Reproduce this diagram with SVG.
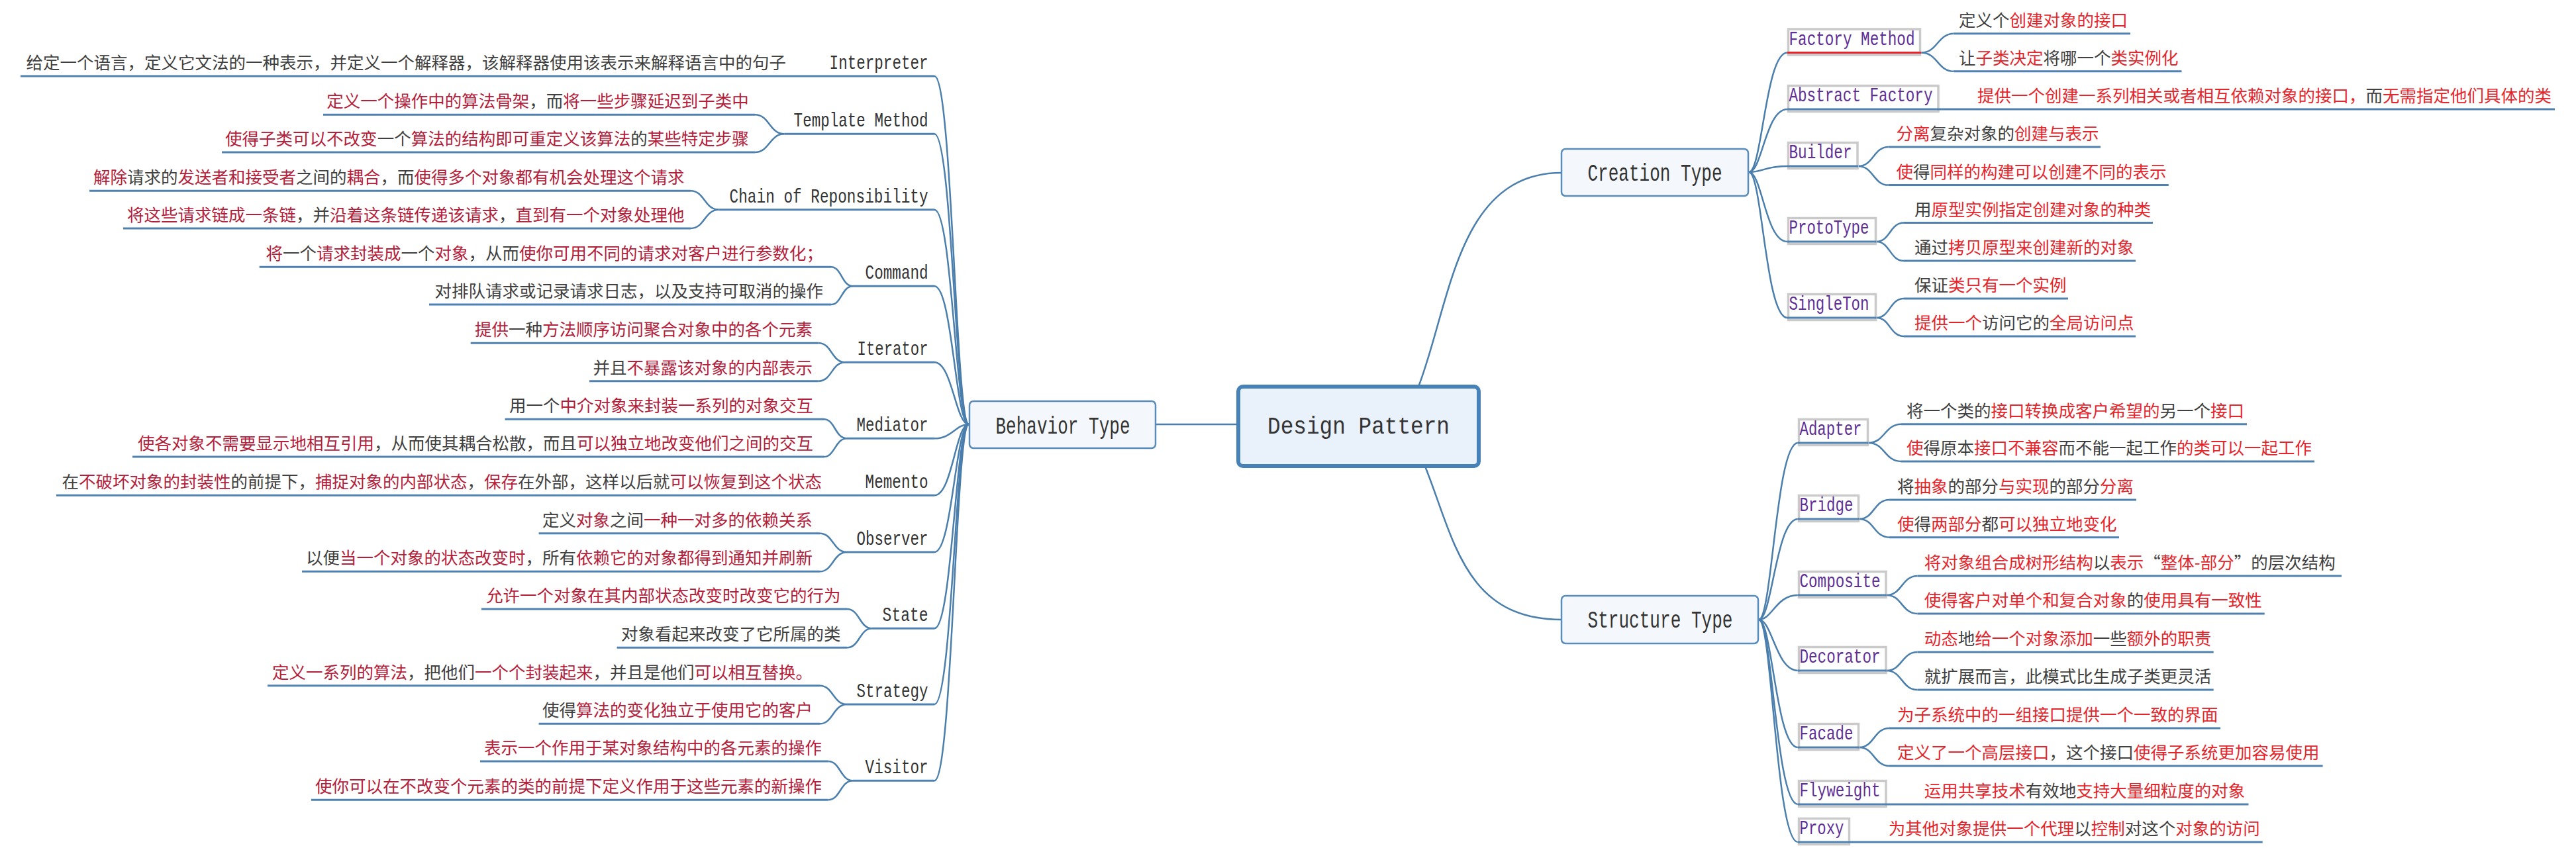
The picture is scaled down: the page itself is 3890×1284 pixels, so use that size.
<svg xmlns="http://www.w3.org/2000/svg" width="3890" height="1284" viewBox="0 0 3890 1284">
<style>
.ln{fill:none;stroke:#4a7eac;stroke-width:2.5}
.ul{fill:none;stroke:#4f82b0;stroke-width:3}
.box{fill:#fff;stroke:#cacaca;stroke-width:3.5}
.t{font-family:"Noto Sans CJK SC","Noto Sans CJK JP",sans-serif;font-size:25.5px;fill:#404040}
.e{text-anchor:end}
.r{fill:#e4262c}
.k{fill:#b4203a}
.lat{font-family:"Liberation Mono",monospace;font-size:29px;fill:#333}
.pu{fill:#5e2f95}
.big{font-family:"Liberation Mono",monospace;font-size:36px;fill:#333;text-anchor:middle}
</style>
<rect width="3890" height="1284" fill="#fff"/>

<g id="connectors">
<path class="ln" d="M1745 641 H1868"/>
<path class="ln" d="M2142 584 C2190 460 2200 261 2358 261"/>
<path class="ln" d="M2151 702 C2195 810 2210 936 2358 936"/>
<!-- creation fan -->
<path class="ln" d="M2641 260 C2661 260 2666 79.6 2699 79.6"/>
<path class="ln" d="M2641 260 C2661 260 2666 165 2699 165"/>
<path class="ln" d="M2641 260 C2661 260 2666 251 2699 251"/>
<path class="ln" d="M2641 260 C2661 260 2666 365 2699 365"/>
<path class="ln" d="M2641 260 C2661 260 2666 480 2699 480"/>
<!-- structure fan -->
<path class="ln" d="M2656 936 C2676 936 2682 669 2715 669"/>
<path class="ln" d="M2656 936 C2676 936 2682 784 2715 784"/>
<path class="ln" d="M2656 936 C2676 936 2682 899 2715 899"/>
<path class="ln" d="M2656 936 C2676 936 2682 1013 2715 1013"/>
<path class="ln" d="M2656 936 C2676 936 2682 1129 2715 1129"/>
<path class="ln" d="M2656 936 C2676 936 2682 1215 2715 1215"/>
<path class="ln" d="M2656 936 C2676 936 2682 1272 2715 1272"/>
<!-- behavior fan -->
<path class="ln" d="M1463 641 C1443 641 1438 115 1411 115"/>
<path class="ln" d="M1463 641 C1443 641 1438 202.3 1411 202.3"/>
<path class="ln" d="M1463 641 C1443 641 1438 316.7 1411 316.7"/>
<path class="ln" d="M1463 641 C1443 641 1438 432.3 1411 432.3"/>
<path class="ln" d="M1463 641 C1443 641 1438 547.3 1411 547.3"/>
<path class="ln" d="M1463 641 C1443 641 1438 662.3 1411 662.3"/>
<path class="ln" d="M1463 641 C1443 641 1438 748.3 1411 748.3"/>
<path class="ln" d="M1463 641 C1443 641 1438 834 1411 834"/>
<path class="ln" d="M1463 641 C1443 641 1438 949.3 1411 949.3"/>
<path class="ln" d="M1463 641 C1443 641 1438 1064 1411 1064"/>
<path class="ln" d="M1463 641 C1443 641 1438 1179.3 1411 1179.3"/>
<!-- right box to children -->
<path class="ln" d="M2901 79.6 C2926 79.6 2926 50.7 2950.5 50.7"/>
<path class="ln" d="M2901 79.6 C2926 79.6 2926 107.8 2950.5 107.8"/>
<path class="ln" d="M2806 251 C2829 251 2829 222 2851.7 222"/>
<path class="ln" d="M2806 251 C2829 251 2829 279.6 2851.7 279.6"/>
<path class="ln" d="M2833.5 365 C2854 365 2854 336.6 2875 336.6"/>
<path class="ln" d="M2833.5 365 C2854 365 2854 394 2875 394"/>
<path class="ln" d="M2833.5 480 C2854 480 2854 451 2875 451"/>
<path class="ln" d="M2833.5 480 C2854 480 2854 508 2875 508"/>
<path class="ln" d="M2821.5 669 C2846 669 2846 640.7 2871 640.7"/>
<path class="ln" d="M2821.5 669 C2846 669 2846 697 2871 697"/>
<path class="ln" d="M2807.6 784 C2830 784 2830 755 2853 755"/>
<path class="ln" d="M2807.6 784 C2830 784 2830 811.7 2853 811.7"/>
<path class="ln" d="M2849 899 C2872 899 2872 870 2895.5 870"/>
<path class="ln" d="M2849 899 C2872 899 2872 927 2895.5 927"/>
<path class="ln" d="M2849 1013 C2872 1013 2872 985 2895.5 985"/>
<path class="ln" d="M2849 1013 C2872 1013 2872 1042 2895.5 1042"/>
<path class="ln" d="M2807.6 1129 C2830 1129 2830 1100 2853 1100"/>
<path class="ln" d="M2807.6 1129 C2830 1129 2830 1157 2853 1157"/>
<!-- left subtopic to children -->
<path class="ln" d="M1184.5 202.3 C1162 202.3 1162 173.3 1140 173.3"/>
<path class="ln" d="M1184.5 202.3 C1162 202.3 1162 230 1140 230"/>
<path class="ln" d="M1085.4 316.7 C1064 316.7 1064 288.3 1043 288.3"/>
<path class="ln" d="M1085.4 316.7 C1064 316.7 1064 345 1043 345"/>
<path class="ln" d="M1288 432.3 C1271 432.3 1271 403.3 1255 403.3"/>
<path class="ln" d="M1288 432.3 C1271 432.3 1271 460 1255 460"/>
<path class="ln" d="M1276 547.3 C1256 547.3 1256 518.3 1236.4 518.3"/>
<path class="ln" d="M1276 547.3 C1256 547.3 1256 575.7 1236.4 575.7"/>
<path class="ln" d="M1279 662.3 C1261 662.3 1261 633.3 1244 633.3"/>
<path class="ln" d="M1279 662.3 C1261 662.3 1261 690 1244 690"/>
<path class="ln" d="M1279 834 C1258 834 1258 805.7 1238 805.7"/>
<path class="ln" d="M1279 834 C1258 834 1258 863.3 1238 863.3"/>
<path class="ln" d="M1316.7 949.3 C1298 949.3 1298 920 1279 920"/>
<path class="ln" d="M1316.7 949.3 C1298 949.3 1298 978.3 1279 978.3"/>
<path class="ln" d="M1279 1064 C1258 1064 1258 1035.7 1238 1035.7"/>
<path class="ln" d="M1279 1064 C1258 1064 1258 1093.3 1238 1093.3"/>
<path class="ln" d="M1288 1179.3 C1269 1179.3 1269 1150 1250.6 1150"/>
<path class="ln" d="M1288 1179.3 C1269 1179.3 1269 1208.3 1250.6 1208.3"/>
</g>

<g id="design-pattern">
<rect x="1870" y="584" width="363" height="120" rx="7" fill="#e9f1fa" stroke="#4681b8" stroke-width="6"/>
<text class="big" x="2051.5" y="655" font-size="42" textLength="275" lengthAdjust="spacingAndGlyphs">Design Pattern</text>
</g>

<g id="behavior-type">
<rect x="1464" y="606" width="281" height="71" rx="6" fill="#f4f8fc" stroke="#5a8cba" stroke-width="2.5"/>
<text class="big" x="1605" y="655" textLength="203" lengthAdjust="spacingAndGlyphs">Behavior Type</text>
</g>

<g id="creation-type">
<rect x="2358" y="225" width="282" height="71" rx="6" fill="#f4f8fc" stroke="#5a8cba" stroke-width="2.5"/>
<text class="big" x="2499" y="273" textLength="203" lengthAdjust="spacingAndGlyphs">Creation Type</text>
</g>

<g id="structure-type">
<rect x="2358" y="900" width="297" height="72" rx="6" fill="#f4f8fc" stroke="#5a8cba" stroke-width="2.5"/>
<text class="big" x="2507" y="948" textLength="219" lengthAdjust="spacingAndGlyphs">Structure Type</text>
</g>

<!-- Creation subtopics -->
<g id="factory-method">
<rect class="box" x="2700.5" y="44" width="199" height="39"/>
<line x1="2699" y1="79.6" x2="2901" y2="79.6" stroke="#e8232b" stroke-width="3"/>
<text class="lat pu" x="2701.5" y="67.6" textLength="190" lengthAdjust="spacingAndGlyphs">Factory Method</text>
<line class="ul" x1="2950.5" y1="50.7" x2="3217" y2="50.7"/>
<text class="t" x="2958" y="39.7">定义个<tspan class="r">创建对象的接口</tspan></text>
<line class="ul" x1="2950.5" y1="107.8" x2="3294.5" y2="107.8"/>
<text class="t" x="2958" y="96.8">让<tspan class="r">子类决定</tspan>将哪一个<tspan class="r">类实例化</tspan></text>
</g>

<g id="abstract-factory">
<rect class="box" x="2700.5" y="129.5" width="226.5" height="39"/>
<line class="ul" x1="2699" y1="165" x2="3858" y2="165"/>
<text class="lat pu" x="2701.5" y="153" textLength="217" lengthAdjust="spacingAndGlyphs">Abstract Factory</text>
<text class="t" x="2986" y="154"><tspan class="r">提供一个创建一系列相关或者相互依赖对象的接口，</tspan>而<tspan class="r">无需指定他们具体的类</tspan></text>
</g>

<g id="builder">
<rect class="box" x="2700.5" y="215.5" width="104.5" height="39"/>
<line class="ul" x1="2699" y1="251" x2="2806" y2="251"/>
<text class="lat pu" x="2701.5" y="239" textLength="95" lengthAdjust="spacingAndGlyphs">Builder</text>
<line class="ul" x1="2851.7" y1="222" x2="3172" y2="222"/>
<text class="t" x="2863.5" y="211"><tspan class="r">分离</tspan>复杂对象的<tspan class="r">创建与表示</tspan></text>
<line class="ul" x1="2851.7" y1="279.6" x2="3274.8" y2="279.6"/>
<text class="t" x="2863.5" y="268.6"><tspan class="r">使</tspan>得<tspan class="r">同样的构建可以创建不同的表示</tspan></text>
</g>

<g id="prototype">
<rect class="box" x="2700.5" y="329.5" width="132" height="39"/>
<line class="ul" x1="2699" y1="365" x2="2833.5" y2="365"/>
<text class="lat pu" x="2701.5" y="353" textLength="121" lengthAdjust="spacingAndGlyphs">ProtoType</text>
<line class="ul" x1="2875" y1="336.6" x2="3251" y2="336.6"/>
<text class="t" x="2891" y="325.6">用<tspan class="r">原型实例指定创建对象的种类</tspan></text>
<line class="ul" x1="2875" y1="394" x2="3225" y2="394"/>
<text class="t" x="2891" y="383">通过<tspan class="r">拷贝原型来创建新的对象</tspan></text>
</g>

<g id="singleton">
<rect class="box" x="2700.5" y="444.5" width="132" height="39"/>
<line class="ul" x1="2699" y1="480" x2="2833.5" y2="480"/>
<text class="lat pu" x="2701.5" y="468" textLength="121" lengthAdjust="spacingAndGlyphs">SingleTon</text>
<line class="ul" x1="2875" y1="451" x2="3123" y2="451"/>
<text class="t" x="2891" y="440">保证<tspan class="r">类只有一个实例</tspan></text>
<line class="ul" x1="2875" y1="508" x2="3225" y2="508"/>
<text class="t" x="2891" y="497"><tspan class="r">提供一个</tspan>访问它的<tspan class="r">全局访问点</tspan></text>
</g>

<!-- Structure subtopics -->
<g id="adapter">
<rect class="box" x="2716.5" y="633.5" width="104" height="39"/>
<line class="ul" x1="2715" y1="669" x2="2821.5" y2="669"/>
<text class="lat pu" x="2717.5" y="657" textLength="94" lengthAdjust="spacingAndGlyphs">Adapter</text>
<line class="ul" x1="2871" y1="640.7" x2="3393" y2="640.7"/>
<text class="t" x="2879" y="629.7">将一个类的<tspan class="r">接口转换成客户希望的</tspan>另一个<tspan class="r">接口</tspan></text>
<line class="ul" x1="2871" y1="697" x2="3495" y2="697"/>
<text class="t" x="2879" y="686"><tspan class="r">使</tspan>得原本<tspan class="r">接口不兼容</tspan>而不能一起工作<tspan class="r">的类可以一起工作</tspan></text>
</g>

<g id="bridge">
<rect class="box" x="2716.5" y="748.5" width="90" height="39"/>
<line class="ul" x1="2715" y1="784" x2="2807.6" y2="784"/>
<text class="lat pu" x="2717.5" y="772" textLength="81" lengthAdjust="spacingAndGlyphs">Bridge</text>
<line class="ul" x1="2853" y1="755" x2="3226" y2="755"/>
<text class="t" x="2865" y="744">将<tspan class="r">抽象</tspan>的部分<tspan class="r">与实现</tspan>的部分<tspan class="r">分离</tspan></text>
<line class="ul" x1="2853" y1="811.7" x2="3200" y2="811.7"/>
<text class="t" x="2865" y="800.7"><tspan class="r">使</tspan>得<tspan class="r">两部分</tspan>都<tspan class="r">可以独立地变化</tspan></text>
</g>

<g id="composite">
<rect class="box" x="2716.5" y="863.5" width="131.5" height="39"/>
<line class="ul" x1="2715" y1="899" x2="2849" y2="899"/>
<text class="lat pu" x="2717.5" y="887" textLength="122" lengthAdjust="spacingAndGlyphs">Composite</text>
<line class="ul" x1="2895.5" y1="870" x2="3536" y2="870"/>
<text class="t" x="2905.8" y="859"><tspan class="r">将对象组合成树形结构</tspan>以<tspan class="r">表示</tspan>“<tspan class="r">整体-部分</tspan>”的层次结构</text>
<line class="ul" x1="2895.5" y1="927" x2="3419.7" y2="927"/>
<text class="t" x="2905.8" y="916"><tspan class="r">使得客户对单个和复合对象</tspan>的<tspan class="r">使用具有一致性</tspan></text>
</g>

<g id="decorator">
<rect class="box" x="2716.5" y="977.5" width="131.5" height="39"/>
<line class="ul" x1="2715" y1="1013" x2="2849" y2="1013"/>
<text class="lat pu" x="2717.5" y="1001" textLength="122" lengthAdjust="spacingAndGlyphs">Decorator</text>
<line class="ul" x1="2895.5" y1="985" x2="3342.7" y2="985"/>
<text class="t" x="2905.8" y="974"><tspan class="r">动态</tspan>地<tspan class="r">给一个对象添加</tspan>一些<tspan class="r">额外的职责</tspan></text>
<line class="ul" x1="2895.5" y1="1042" x2="3342.7" y2="1042"/>
<text class="t" x="2905.8" y="1031">就扩展而言，此模式比生成子类更灵活</text>
</g>

<g id="facade">
<rect class="box" x="2716.5" y="1093.5" width="90" height="39"/>
<line class="ul" x1="2715" y1="1129" x2="2807.6" y2="1129"/>
<text class="lat pu" x="2717.5" y="1117" textLength="81" lengthAdjust="spacingAndGlyphs">Facade</text>
<line class="ul" x1="2853" y1="1100" x2="3353" y2="1100"/>
<text class="t r" x="2865" y="1089">为子系统中的一组接口提供一个一致的界面</text>
<line class="ul" x1="2853" y1="1157" x2="3507.6" y2="1157"/>
<text class="t" x="2865" y="1146"><tspan class="r">定义了一个高层接口</tspan>，这个接口<tspan class="r">使得子系统更加容易使用</tspan></text>
</g>

<g id="flyweight">
<rect class="box" x="2716.5" y="1179.5" width="131.5" height="39"/>
<line class="ul" x1="2715" y1="1215" x2="3395.5" y2="1215"/>
<text class="lat pu" x="2717.5" y="1203" textLength="122" lengthAdjust="spacingAndGlyphs">Flyweight</text>
<text class="t" x="2905.8" y="1204"><tspan class="r">运用共享技术</tspan>有效地<tspan class="r">支持大量细粒度的对象</tspan></text>
</g>

<g id="proxy">
<rect class="box" x="2716.5" y="1236.5" width="76" height="39"/>
<line class="ul" x1="2715" y1="1272" x2="3416.7" y2="1272"/>
<text class="lat pu" x="2717.5" y="1260" textLength="67" lengthAdjust="spacingAndGlyphs">Proxy</text>
<text class="t" x="2851.8" y="1261"><tspan class="r">为其他对象提供一个代理</tspan>以<tspan class="r">控制</tspan>对这个<tspan class="r">对象的访问</tspan></text>
</g>

<!-- Behavior subtopics -->
<g id="interpreter">
<line class="ul" x1="31" y1="115" x2="1411" y2="115"/>
<text class="lat e" x="1401.6" y="104" textLength="149" lengthAdjust="spacingAndGlyphs">Interpreter</text>
<text class="t e" x="1187" y="104">给定一个语言，定义它文法的一种表示，并定义一个解释器，该解释器使用该表示来解释语言中的句子</text>
</g>

<g id="template-method">
<line class="ul" x1="1184.5" y1="202.3" x2="1411" y2="202.3"/>
<text class="lat e" x="1401.6" y="191.3" textLength="203" lengthAdjust="spacingAndGlyphs">Template Method</text>
<line class="ul" x1="488" y1="173.3" x2="1140" y2="173.3"/>
<text class="t e" x="1130.7" y="162.3"><tspan class="k">定义一个操作中的算法骨架</tspan>，而<tspan class="k">将一些步骤延迟到子类中</tspan></text>
<line class="ul" x1="335" y1="230" x2="1140" y2="230"/>
<text class="t e" x="1130.7" y="219"><tspan class="k">使得子类可以不改变</tspan>一个<tspan class="k">算法的结构即可重定义该算法</tspan>的<tspan class="k">某些特定步骤</tspan></text>
</g>

<g id="chain-of-responsibility">
<line class="ul" x1="1085.4" y1="316.7" x2="1411" y2="316.7"/>
<text class="lat e" x="1401.6" y="305.7" textLength="300" lengthAdjust="spacingAndGlyphs">Chain of Reponsibility</text>
<line class="ul" x1="135" y1="288.3" x2="1043" y2="288.3"/>
<text class="t e" x="1033.5" y="277.3"><tspan class="k">解除</tspan>请求的<tspan class="k">发送者和接受者</tspan>之间的<tspan class="k">耦合</tspan>，而<tspan class="k">使得多个对象都有机会处理这个请求</tspan></text>
<line class="ul" x1="186" y1="345" x2="1043" y2="345"/>
<text class="t e" x="1033.5" y="334"><tspan class="k">将这些请求链成一条链</tspan>，并<tspan class="k">沿着这条链传递该请求</tspan>，<tspan class="k">直到有一个对象处理他</tspan></text>
</g>

<g id="command">
<line class="ul" x1="1288" y1="432.3" x2="1411" y2="432.3"/>
<text class="lat e" x="1401.6" y="421.3" textLength="95" lengthAdjust="spacingAndGlyphs">Command</text>
<line class="ul" x1="391.7" y1="403.3" x2="1255" y2="403.3"/>
<text class="t e" x="1243" y="392.3"><tspan class="k">将</tspan>一个<tspan class="k">请求封装成</tspan>一个<tspan class="k">对象</tspan>，从而<tspan class="k">使你可用不同的请求对客户进行参数化；</tspan></text>
<line class="ul" x1="648" y1="460" x2="1255" y2="460"/>
<text class="t e" x="1243" y="449">对排队请求或记录请求日志，以及支持可取消的操作</text>
</g>

<g id="iterator">
<line class="ul" x1="1276" y1="547.3" x2="1411" y2="547.3"/>
<text class="lat e" x="1401.6" y="536.3" textLength="107" lengthAdjust="spacingAndGlyphs">Iterator</text>
<line class="ul" x1="710.7" y1="518.3" x2="1236.4" y2="518.3"/>
<text class="t e" x="1227" y="507.3"><tspan class="k">提供</tspan>一种<tspan class="k">方法顺序访问聚合对象中的各个元素</tspan></text>
<line class="ul" x1="890" y1="575.7" x2="1236.4" y2="575.7"/>
<text class="t e" x="1227" y="564.7">并且<tspan class="k">不暴露该对象的内部表示</tspan></text>
</g>

<g id="mediator">
<line class="ul" x1="1279" y1="662.3" x2="1411" y2="662.3"/>
<text class="lat e" x="1401.6" y="651.3" textLength="108" lengthAdjust="spacingAndGlyphs">Mediator</text>
<line class="ul" x1="762.6" y1="633.3" x2="1244" y2="633.3"/>
<text class="t e" x="1228" y="622.3">用一个<tspan class="k">中介对象来封装一系列的对象交互</tspan></text>
<line class="ul" x1="200" y1="690" x2="1244" y2="690"/>
<text class="t e" x="1228" y="679"><tspan class="k">使各对象不需要显示地相互引用</tspan>，从而使其耦合松散，而且<tspan class="k">可以独立地改变他们之间的交互</tspan></text>
</g>

<g id="memento">
<line class="ul" x1="85" y1="748.3" x2="1411" y2="748.3"/>
<text class="lat e" x="1401.6" y="737.3" textLength="95" lengthAdjust="spacingAndGlyphs">Memento</text>
<text class="t e" x="1241" y="737.3">在<tspan class="k">不破坏对象的封装性</tspan>的前提下，<tspan class="k">捕捉对象的内部状态</tspan>，<tspan class="k">保存</tspan>在外部，这样以后就<tspan class="k">可以恢复到这个状态</tspan></text>
</g>

<g id="observer">
<line class="ul" x1="1279" y1="834" x2="1411" y2="834"/>
<text class="lat e" x="1401.6" y="823" textLength="108" lengthAdjust="spacingAndGlyphs">Observer</text>
<line class="ul" x1="813.6" y1="805.7" x2="1238" y2="805.7"/>
<text class="t e" x="1227" y="794.7">定义<tspan class="k">对象</tspan>之间<tspan class="k">一种一对多的依赖关系</tspan></text>
<line class="ul" x1="456" y1="863.3" x2="1238" y2="863.3"/>
<text class="t e" x="1227" y="852.3">以便<tspan class="k">当一个对象的状态改变时</tspan>，所有<tspan class="k">依赖它的对象都得到通知并刷新</tspan></text>
</g>

<g id="state">
<line class="ul" x1="1316.7" y1="949.3" x2="1411" y2="949.3"/>
<text class="lat e" x="1401.6" y="938.3" textLength="69" lengthAdjust="spacingAndGlyphs">State</text>
<line class="ul" x1="727" y1="920" x2="1279" y2="920"/>
<text class="t e k" x="1269.5" y="909">允许一个对象在其内部状态改变时改变它的行为</text>
<line class="ul" x1="931.6" y1="978.3" x2="1279" y2="978.3"/>
<text class="t e" x="1269.5" y="967.3">对象看起来改变了它所属的类</text>
</g>

<g id="strategy">
<line class="ul" x1="1279" y1="1064" x2="1411" y2="1064"/>
<text class="lat e" x="1401.6" y="1053" textLength="108" lengthAdjust="spacingAndGlyphs">Strategy</text>
<line class="ul" x1="404" y1="1035.7" x2="1238" y2="1035.7"/>
<text class="t e" x="1227" y="1024.7"><tspan class="k">定义一系列的算法</tspan>，把他们<tspan class="k">一个个封装起来</tspan>，并且是他们<tspan class="k">可以相互替换。</tspan></text>
<line class="ul" x1="813.6" y1="1093.3" x2="1238" y2="1093.3"/>
<text class="t e" x="1227" y="1082.3">使得<tspan class="k">算法的变化独立于使用它的客户</tspan></text>
</g>

<g id="visitor">
<line class="ul" x1="1288" y1="1179.3" x2="1411" y2="1179.3"/>
<text class="lat e" x="1401.6" y="1168.3" textLength="95" lengthAdjust="spacingAndGlyphs">Visitor</text>
<line class="ul" x1="725" y1="1150" x2="1250.6" y2="1150"/>
<text class="t e k" x="1241" y="1139">表示一个作用于某对象结构中的各元素的操作</text>
<line class="ul" x1="470" y1="1208.3" x2="1250.6" y2="1208.3"/>
<text class="t e k" x="1241" y="1197.3">使你可以在不改变个元素的类的前提下定义作用于这些元素的新操作</text>
</g>
</svg>
